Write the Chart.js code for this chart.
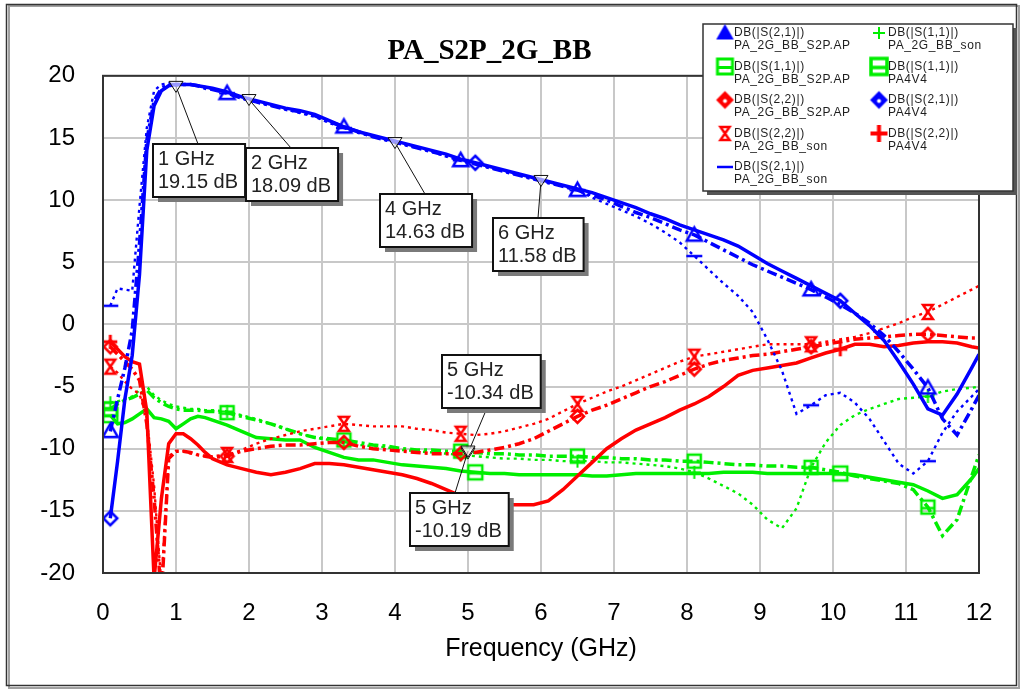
<!DOCTYPE html>
<html lang="en">
<head>
<meta charset="UTF-8">
<title>PA_S2P_2G_BB</title>
<script src="https://cdn.jsdelivr.net/npm/chart.js"></script>
<style>
  html, body { margin: 0; padding: 0; background: #fff; }
  canvas { display: block; }
</style>
</head>
<body>
<canvas id="chart" width="1025" height="690"></canvas>
<script>
// frequency grid (GHz)
const freq = [0.1, 0.2, 0.3, 0.4, 0.5, 0.6, 0.7, 0.8, 0.9, 1.0, 1.1, 1.2, 1.3, 1.4, 1.5,
  1.7, 1.9, 2.1, 2.3, 2.5, 2.7, 2.9, 3.1, 3.3, 3.5,
  3.7, 3.9, 4.1, 4.3, 4.5, 4.7, 4.9, 5.1, 5.3, 5.5,
  5.7, 5.9, 6.1, 6.3, 6.5, 6.7, 6.9, 7.1, 7.3, 7.5,
  7.7, 7.9, 8.1, 8.3, 8.5, 8.7, 8.9, 9.1, 9.3, 9.5,
  9.7, 9.9, 10.1, 10.3, 10.5, 10.7, 10.9, 11.1, 11.3, 11.5,
  11.7, 11.9, 12.0];

// DB(|S(2,1)|)
const s21_ap = [-8.6, -6.0, -3.5, -0.5, 6.5, 14.8, 18.0, 19.0, 19.3, 19.3, 19.3, 19.3, 19.2, 19.0, 18.9,
  18.6, 18.2, 17.9, 17.6, 17.3, 17.1, 16.8, 16.3, 15.9, 15.5,
  15.1, 14.8, 14.5, 14.2, 13.9, 13.6, 13.2, 12.9, 12.6, 12.3,
  12.0, 11.7, 11.4, 11.1, 10.8, 10.4, 10.0, 9.5, 9.0, 8.6,
  8.1, 7.6, 7.2, 6.6, 6.0, 5.4, 4.8, 4.3, 3.8, 3.3,
  2.8, 2.2, 1.6, 0.9, 0.1, -0.9, -2.2, -3.6, -5.1, -7.6,
  -8.9, -6.8, -5.7];
const s21_pa = [-15.6, -11.0, -6.0, -2.5, 4.0, 14.0, 17.6, 18.8, 19.2, 19.3, 19.3, 19.3, 19.2, 19.1, 19.0,
  18.7, 18.3, 18.0, 17.7, 17.4, 17.2, 16.9, 16.4, 15.9, 15.5,
  15.2, 14.9, 14.6, 14.3, 14.0, 13.7, 13.3, 13.0, 12.7, 12.4,
  12.1, 11.8, 11.5, 11.2, 10.9, 10.6, 10.2, 9.8, 9.4, 8.9,
  8.5, 8.0, 7.6, 7.2, 6.8, 6.3, 5.6, 4.9, 4.3, 3.7,
  3.1, 2.5, 1.9, 0.9, -0.1, -1.3, -3.0, -4.8, -6.8, -7.3,
  -5.6, -3.5, -2.4];
const s21_son = [1.5, 2.9, 2.8, 2.7, 9.5, 15.8, 18.8, 19.3, 19.4, 19.2, 19.3, 19.3, 19.2, 19.1, 18.9,
  18.6, 18.2, 17.9, 17.6, 17.3, 17.0, 16.7, 16.2, 15.8, 15.4,
  15.1, 14.8, 14.5, 14.2, 13.9, 13.5, 13.2, 12.9, 12.6, 12.3,
  12.0, 11.7, 11.4, 11.1, 10.8, 10.2, 9.7, 9.2, 8.7, 8.1,
  7.4, 6.6, 5.5, 4.4, 3.3, 2.3, 1.0, -1.2, -3.7, -7.2,
  -6.5, -5.7, -5.5, -6.3, -7.6, -9.4, -11.2, -12.0, -11.0, -8.7,
  -7.0, -5.8, -5.2];

// DB(|S(2,2)|)
const s22_ap = [-1.8, -2.4, -3.0, -3.6, -4.5, -8.0, -14.0, -22.0, -10.8, -10.2, -10.2, -10.3, -10.5, -10.6, -10.7,
  -10.6, -10.2, -10.0, -9.8, -9.7, -9.7, -9.6, -9.5, -9.5, -9.8,
  -10.0, -10.1, -10.2, -10.3, -10.4, -10.4, -10.4, -10.3, -10.1, -9.9,
  -9.6, -9.2, -8.6, -8.0, -7.4, -6.9, -6.5, -6.0, -5.5, -5.0,
  -4.6, -4.1, -3.6, -3.2, -2.9, -2.7, -2.5, -2.4, -2.2, -2.0,
  -1.8, -1.6, -1.4, -1.2, -1.1, -1.0, -0.9, -0.8, -0.8, -0.9,
  -1.0, -1.1, -1.1];
const s22_pa = [-1.4, -2.0, -2.6, -3.0, -3.2, -7.0, -20.5, -14.0, -9.6, -8.8, -8.8, -9.2, -9.7, -10.3, -10.8,
  -11.3, -11.6, -11.9, -12.1, -11.9, -11.6, -11.2, -11.2, -11.3, -11.5,
  -11.7, -11.9, -12.1, -12.4, -12.8, -13.3, -13.8, -14.1, -14.3, -14.5,
  -14.5, -14.5, -14.2, -13.3, -12.2, -11.1, -10.0, -9.2, -8.5, -8.0,
  -7.5, -6.9, -6.4, -5.8, -5.0, -4.1, -3.7, -3.5, -3.3, -3.1,
  -2.7, -2.3, -2.0, -1.6, -1.6, -1.8, -1.7, -1.5, -1.4, -1.4,
  -1.5, -1.8, -1.9];
const s22_son = [-3.4, -3.9, -4.6, -5.2, -5.6, -7.5, -13.0, -21.0, -10.6, -10.2, -10.2, -10.4, -10.5, -10.6, -10.6,
  -10.5, -10.1, -9.6, -9.2, -8.9, -8.6, -8.4, -8.2, -8.0, -8.1,
  -8.2, -8.2, -8.2, -8.4, -8.5, -8.7, -8.8, -8.9, -8.8, -8.6,
  -8.3, -8.0, -7.6, -7.0, -6.4, -5.9, -5.4, -5.0, -4.5, -4.0,
  -3.5, -3.0, -2.6, -2.4, -2.2, -2.0, -1.8, -1.6, -1.6, -1.6,
  -1.6, -1.4, -1.2, -1.0, -0.7, -0.3, 0.1, 0.6, 1.0, 1.6,
  2.2, 2.8, 3.1];

// DB(|S(1,1)|)
const s11_ap = [-6.8, -6.4, -6.1, -5.9, -5.6, -5.3, -5.9, -6.3, -6.6, -6.8, -6.9, -6.9, -6.9, -7.0, -7.0,
  -7.1, -7.4, -7.7, -8.0, -8.4, -8.8, -9.1, -9.2, -9.3, -9.5,
  -9.7, -9.8, -10.0, -10.1, -10.1, -10.2, -10.2, -10.3, -10.4, -10.4,
  -10.5, -10.5, -10.6, -10.6, -10.6, -10.7, -10.7, -10.8, -10.8, -10.9,
  -10.9, -11.0, -11.0, -11.1, -11.2, -11.3, -11.3, -11.4, -11.4, -11.5,
  -11.5, -11.7, -11.9, -12.2, -12.4, -12.6, -12.8, -13.3, -14.7, -17.0,
  -15.7, -12.2, -10.5];
const s11_pa = [-7.3, -8.0, -7.9, -7.6, -7.2, -6.8, -7.5, -7.6, -7.8, -8.4, -8.0, -7.6, -7.4, -7.5, -7.7,
  -8.1, -8.6, -9.1, -9.2, -9.3, -9.3, -9.9, -10.3, -10.7, -10.9,
  -10.9, -11.1, -11.3, -11.4, -11.5, -11.6, -11.8, -11.9, -12.0, -12.0,
  -12.1, -12.1, -12.1, -12.1, -12.1, -12.2, -12.2, -12.1, -12.0, -12.0,
  -12.0, -12.0, -12.0, -12.0, -11.9, -11.9, -11.9, -12.0, -12.0, -12.0,
  -12.0, -12.0, -12.0, -12.1, -12.3, -12.5, -12.7, -12.9, -13.4, -14.0,
  -13.7, -12.4, -11.6];
const s11_son = [-6.3, -6.2, -6.0, -5.8, -5.3, -5.0, -5.7, -6.1, -6.4, -6.6, -6.7, -6.8, -6.8, -6.9, -6.9,
  -7.0, -7.3, -7.6, -8.0, -8.4, -8.8, -9.1, -9.3, -9.5, -9.7,
  -9.8, -9.9, -10.1, -10.2, -10.3, -10.4, -10.5, -10.6, -10.7, -10.8,
  -10.8, -10.9, -10.9, -11.0, -11.0, -11.0, -11.1, -11.1, -11.2, -11.3,
  -11.4, -11.6, -11.9, -12.4, -13.0, -13.6, -14.5, -15.7, -16.4, -14.8,
  -11.5, -9.5, -8.1, -7.3, -6.8, -6.4, -6.0, -5.9, -5.8, -5.4,
  -5.2, -5.1, -5.0];

// where the symbols of each data source sit
const apMarks = [0.1, 1.7, 3.3, 4.9, 6.5, 8.1, 9.7, 11.3];
const paMarks = [0.1, 5.1, 10.1];
const sonMarks = [0.1, 1.7, 3.3, 4.9, 6.5, 8.1, 9.7, 11.3];

// readout markers
const markFreq = [1, 2, 4, 6, 5, 5];
const markDb = [19.15, 18.09, 14.63, 11.58, -10.34, -10.19];

const BLUE = '#0000ff', RED = '#ff0000', GREEN = '#00ee00';

function makeIcon(kind, color, size, lw, fill, dot) {
  const pad = Math.ceil(lw) + 2;
  const c = document.createElement('canvas');
  c.width = c.height = size + pad * 2;
  const g = c.getContext('2d');
  const m = c.width / 2, h = size / 2;
  g.strokeStyle = color;
  g.fillStyle = color;
  g.lineWidth = lw;
  g.beginPath();
  if (kind === 'tri') {
    g.moveTo(m, m - h); g.lineTo(m + h, m + h * 0.75); g.lineTo(m - h, m + h * 0.75); g.closePath();
  } else if (kind === 'dia') {
    g.moveTo(m, m - h); g.lineTo(m + h, m); g.lineTo(m, m + h); g.lineTo(m - h, m); g.closePath();
  } else if (kind === 'sq') {
    g.rect(m - h, m - h, size, size);
    g.moveTo(m - h, m + 1); g.lineTo(m + h, m + 1);
  } else if (kind === 'hg') {
    g.moveTo(m - h * 0.7, m - h); g.lineTo(m + h * 0.7, m - h);
    g.lineTo(m - h * 0.7, m + h); g.lineTo(m + h * 0.7, m + h); g.closePath();
  } else if (kind === 'plus') {
    g.moveTo(m - h, m); g.lineTo(m + h, m); g.moveTo(m, m - h); g.lineTo(m, m + h);
  } else if (kind === 'dash') {
    g.moveTo(m - h, m); g.lineTo(m + h, m);
  }
  if (fill) g.fill();
  g.stroke();
  if (dot) {
    g.fillStyle = '#fff';
    g.beginPath(); g.arc(m, m + 1, 2, 0, Math.PI * 2); g.fill();
  }
  return c;
}

const lineStyles = {
  solid: { borderWidth: 3.5, borderDash: [] },
  dashdot: { borderWidth: 3.5, borderDash: [10, 4, 3, 4] },
  dotted: { borderWidth: 2.4, borderDash: [3, 4] }
};

function series(meas, source, ys, color, style, marks, plotIcon, legendIcon) {
  return {
    label: meas + ' ' + source,
    meas: meas,
    source: source,
    legendIcon: legendIcon,
    data: freq.map((f, i) => ({ x: f, y: ys[i] })),
    borderColor: color,
    backgroundColor: color,
    borderWidth: lineStyles[style].borderWidth,
    borderDash: lineStyles[style].borderDash,
    borderCapStyle: 'butt',
    tension: 0,
    clip: 0,
    pointStyle: plotIcon,
    pointRadius: ctx => marks.some(m => Math.abs(m - freq[ctx.dataIndex]) < 1e-6) ? 6 : 0,
    pointHoverRadius: 0
  };
}

const datasets = [
  series('DB(|S(2,1)|)', 'PA4V4', s21_pa, BLUE, 'solid', paMarks,
    makeIcon('dia', BLUE, 14, 2.5, false), makeIcon('dia', BLUE, 15, 2, true, true)),
  series('DB(|S(2,1)|)', 'PA_2G_BB_S2P.AP', s21_ap, BLUE, 'dashdot', apMarks,
    makeIcon('tri', BLUE, 15, 2.5, false), makeIcon('tri', BLUE, 15, 1.5, true)),
  series('DB(|S(2,1)|)', 'PA_2G_BB_son', s21_son, BLUE, 'dotted', sonMarks,
    makeIcon('dash', BLUE, 16, 2.5, false), makeIcon('dash', BLUE, 16, 2.5, false)),
  series('DB(|S(2,2)|)', 'PA4V4', s22_pa, RED, 'solid', paMarks,
    makeIcon('plus', RED, 14, 3, false), makeIcon('plus', RED, 17, 4, false)),
  series('DB(|S(2,2)|)', 'PA_2G_BB_S2P.AP', s22_ap, RED, 'dashdot', apMarks,
    makeIcon('dia', RED, 13, 2.5, false), makeIcon('dia', RED, 15, 2, true, true)),
  series('DB(|S(2,2)|)', 'PA_2G_BB_son', s22_son, RED, 'dotted', sonMarks,
    makeIcon('hg', RED, 14, 2.5, false), makeIcon('hg', RED, 13, 2.5, false)),
  series('DB(|S(1,1)|)', 'PA4V4', s11_pa, GREEN, 'solid', paMarks,
    makeIcon('sq', GREEN, 14, 2.5, false), makeIcon('sq', GREEN, 16, 3.5, false)),
  series('DB(|S(1,1)|)', 'PA_2G_BB_S2P.AP', s11_ap, GREEN, 'dashdot', apMarks,
    makeIcon('sq', GREEN, 13, 2.5, false), makeIcon('sq', GREEN, 15, 3, false)),
  series('DB(|S(1,1)|)', 'PA_2G_BB_son', s11_son, GREEN, 'dotted', sonMarks,
    makeIcon('plus', GREEN, 13, 2, false), makeIcon('plus', GREEN, 12, 2, false))
];

// legend slots [column, row] in dataset order
const legendSlots = [[1, 2], [0, 0], [0, 4], [1, 3], [0, 2], [0, 3], [1, 1], [0, 1], [1, 0]];

// readout box offsets from the marker point
const boxOffsets = [[-23, 58], [-3, 48], [-15, 51], [-48, 38], [-26, -98], [-58, 42]];

const sans = '"Liberation Sans", Arial, sans-serif';

const decorPlugin = {
  id: 'decor',
  beforeDraw(chart) {
    const c = chart.ctx;
    c.save();
    c.fillStyle = '#fff';
    c.fillRect(0, 0, chart.width, chart.height);
    c.strokeStyle = '#a0a0a0';
    c.lineWidth = 2;
    c.strokeRect(9, 6, 1010, 682);
    c.strokeStyle = '#333';
    c.lineWidth = 1.5;
    c.strokeRect(6.5, 4.5, 1010, 681);
    c.restore();
  },
  afterDatasetsDraw(chart) {
    const c = chart.ctx, a = chart.chartArea, sx = chart.scales.x, sy = chart.scales.y;
    c.save();
    c.strokeStyle = '#333';
    c.lineWidth = 2;
    c.strokeRect(a.left, a.top, a.right - a.left, a.bottom - a.top);

    markFreq.forEach((f, i) => {
      const px = sx.getPixelForValue(f), py = sy.getPixelForValue(markDb[i]);
      const l1 = f + ' GHz', l2 = markDb[i].toFixed(2) + ' dB';
      c.font = '20px ' + sans;
      const w = Math.max(c.measureText(l1).width, c.measureText(l2).width) + 12;
      const h = 53;
      const bx = Math.round(px + boxOffsets[i][0]), by = Math.round(py + boxOffsets[i][1]);
      const lx = bx + 45, ly = boxOffsets[i][1] < 0 ? by + h : by;
      // leader line
      c.strokeStyle = '#111';
      c.lineWidth = 1;
      c.beginPath(); c.moveTo(px, py); c.lineTo(lx, ly); c.stroke();
      // inverted triangle marker
      c.fillStyle = 'rgba(255,255,255,0.6)';
      c.beginPath();
      c.moveTo(px - 7, py - 5); c.lineTo(px + 7, py - 5); c.lineTo(px, py + 6); c.closePath();
      c.fill(); c.stroke();
      // box with shadow
      c.fillStyle = '#7a7a7a';
      c.fillRect(bx + 5, by + 5, w, h);
      c.fillStyle = '#fff';
      c.fillRect(bx, by, w, h);
      c.strokeStyle = '#111';
      c.lineWidth = 2;
      c.strokeRect(bx, by, w, h);
      c.fillStyle = '#222';
      c.textBaseline = 'middle';
      c.textAlign = 'left';
      c.fillText(l1, bx + 5, by + 15);
      c.fillText(l2, bx + 5, by + 38);
    });
    c.restore();
  },
  afterDraw(chart) {
    const c = chart.ctx;
    c.save();
    const lx = 703, ly = 24, lw = 310, lh = 167;
    c.fillStyle = '#555';
    c.fillRect(lx + 4, ly + 4, lw, lh);
    c.fillStyle = '#fff';
    c.fillRect(lx, ly, lw, lh);
    c.strokeStyle = '#333';
    c.lineWidth = 1.5;
    c.strokeRect(lx, ly, lw, lh);
    c.font = '12px ' + sans;
    c.letterSpacing = '0.6px';
    c.textBaseline = 'middle';
    c.textAlign = 'left';
    c.fillStyle = '#1e1e1e';
    chart.data.datasets.forEach((ds, i) => {
      const [col, row] = legendSlots[i];
      const sxp = col === 0 ? 725 : 879;
      const tx = col === 0 ? 734 : 888;
      const ty = 33 + row * 33.5;
      const ic = ds.legendIcon;
      c.drawImage(ic, sxp - ic.width / 2, ty - ic.height / 2);
      c.fillText(ds.meas, tx, ty);
      c.fillText(ds.source, tx, ty + 13);
    });
    c.restore();
  }
};

new Chart(document.getElementById('chart'), {
  type: 'line',
  data: { datasets: datasets },
  plugins: [decorPlugin],
  options: {
    responsive: false,
    animation: false,
    events: [],
    layout: { padding: { left: 0, right: 46, top: 0, bottom: 0 } },
    plugins: {
      legend: { display: false },
      tooltip: { enabled: false },
      title: {
        display: true,
        text: 'PA_S2P_2G_BB',
        color: '#000',
        font: { family: '"Liberation Serif", "Times New Roman", serif', size: 29, weight: 'bold' },
        padding: { top: 34, bottom: 7 }
      }
    },
    scales: {
      x: {
        type: 'linear',
        min: 0,
        max: 12,
        ticks: { stepSize: 1, color: '#000', font: { family: sans, size: 24 }, padding: 26, maxRotation: 0 },
        grid: { color: '#c8c8c8', lineWidth: 2, drawTicks: false },
        border: { display: false },
        title: { display: true, text: 'Frequency (GHz)', color: '#000', font: { family: sans, size: 25 }, padding: { top: 0, bottom: 26 } },
        afterFit(scale) { scale.height = 117; }
      },
      y: {
        min: -20,
        max: 20,
        ticks: { stepSize: 5, color: '#000', font: { family: sans, size: 24 }, padding: 28 },
        grid: { color: '#c8c8c8', lineWidth: 2, drawTicks: false },
        border: { display: false },
        afterFit(scale) { scale.width = 103; }
      }
    }
  }
});
</script>
</body>
</html>
